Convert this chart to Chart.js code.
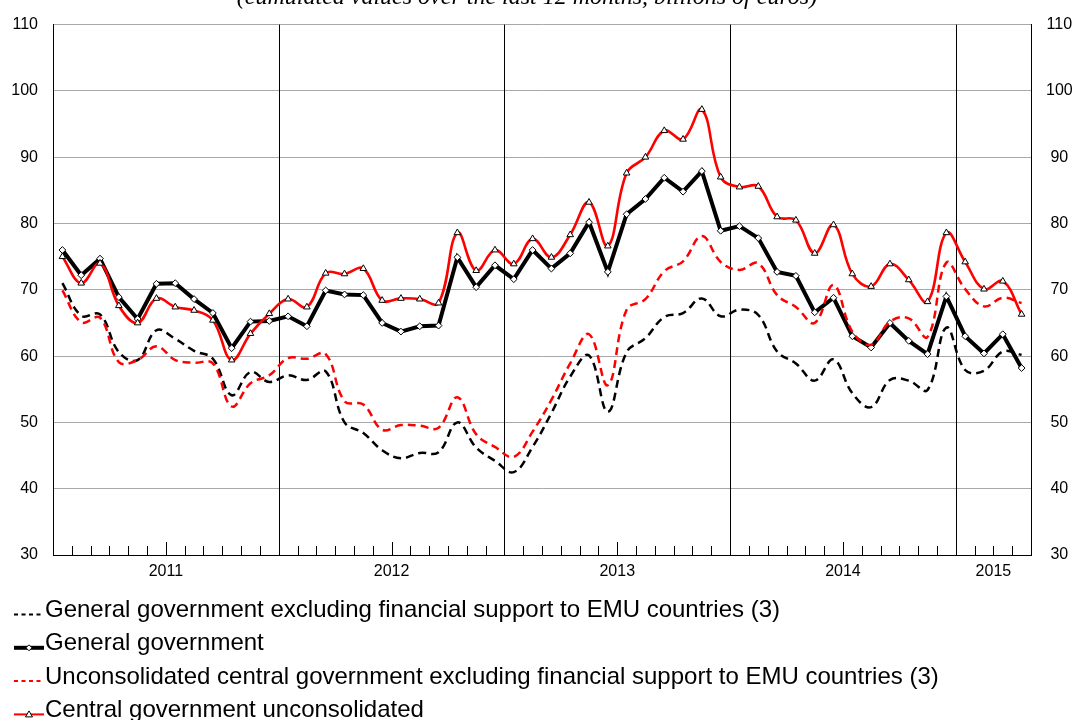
<!DOCTYPE html>
<html>
<head>
<meta charset="utf-8">
<script src="https://cdn.jsdelivr.net/npm/chart.js@4.4.1/dist/chart.umd.min.js"></script>
<style>
  html, body { margin: 0; padding: 0; background: #fff; }
  #wrap { width: 1075px; height: 720px; }
</style>
</head>
<body>
<div id="wrap"><canvas id="chart" width="1075" height="720"></canvas></div>
<script>
const months = [
    '2011-01','2011-02','2011-03','2011-04','2011-05','2011-06','2011-07','2011-08','2011-09','2011-10','2011-11','2011-12',
    '2012-01','2012-02','2012-03','2012-04','2012-05','2012-06','2012-07','2012-08','2012-09','2012-10','2012-11','2012-12',
    '2013-01','2013-02','2013-03','2013-04','2013-05','2013-06','2013-07','2013-08','2013-09','2013-10','2013-11','2013-12',
    '2014-01','2014-02','2014-03','2014-04','2014-05','2014-06','2014-07','2014-08','2014-09','2014-10','2014-11','2014-12',
    '2015-01','2015-02','2015-03','2015-04'
];
const years = ['2011', '2012', '2013', '2014', '2015'];
const yTicks = [30, 40, 50, 60, 70, 80, 90, 100, 110];

const titleText = '(cumulated values over the last 12 months, billions of euros)';
const seriesNames = [
    'General government excluding financial support to EMU countries (3)',
    'General government',
    'Unconsolidated central government excluding financial support to EMU countries (3)',
    'Central government unconsolidated'
];

const generalGovExcl = [
    71.0, 66.1, 66.3, 60.6, 59.4, 63.9, 62.6, 60.8, 59.6, 54.1, 57.6, 56.1,
    57.1, 56.4, 57.7, 50.0, 48.4, 45.8, 44.6, 45.4, 45.5, 50.0, 46.2, 44.2,
    42.5, 46.3, 51.4, 56.9, 60.1, 51.6, 60.6, 62.7, 65.9, 66.5, 68.7, 66.0,
    67.0, 66.2, 60.7, 58.9, 56.3, 59.5, 54.4, 52.3, 56.4, 56.3, 54.9, 64.3,
    57.9, 57.8, 60.7, 60.2
];
const generalGov = [
    76.0, 72.2, 74.7, 68.9, 65.6, 70.9, 71.0, 68.6, 66.5, 61.2, 65.2, 65.3,
    66.0, 64.5, 69.9, 69.3, 69.2, 65.0, 63.7, 64.5, 64.6, 74.9, 70.4, 73.7,
    71.6, 76.0, 73.2, 75.5, 80.2, 72.7, 81.4, 83.7, 86.9, 84.8, 87.9, 78.9,
    79.6, 77.8, 72.7, 72.1, 66.6, 68.8, 63.0, 61.3, 65.0, 62.3, 60.3, 69.0,
    63.0, 60.4, 63.3, 58.2
];
const centralGovExcl = [
    69.9, 65.1, 65.8, 59.1, 59.4, 61.5, 59.4, 59.0, 58.9, 52.4, 55.9, 57.1,
    59.7, 59.6, 60.3, 53.2, 52.7, 48.9, 49.6, 49.5, 49.2, 53.8, 48.2, 46.3,
    44.8, 48.6, 53.4, 58.9, 63.3, 55.6, 67.0, 68.6, 72.8, 74.3, 78.1, 74.2,
    73.0, 74.0, 69.2, 67.4, 65.0, 70.7, 63.7, 61.7, 65.2, 65.7, 62.9, 74.1,
    70.1, 67.5, 68.8, 68.0
];
const centralGov = [
    75.0, 71.0, 74.0, 67.6, 65.0, 68.7, 67.4, 66.9, 65.4, 59.4, 63.4, 66.4,
    68.6, 67.4, 72.5, 72.4, 73.2, 68.4, 68.7, 68.6, 68.0, 78.6, 72.9, 76.0,
    73.9, 77.7, 74.9, 78.3, 83.2, 76.6, 87.6, 90.0, 94.0, 92.7, 97.2, 87.0,
    85.5, 85.6, 81.0, 80.5, 75.5, 79.8, 72.4, 70.5, 73.9, 71.5, 68.2, 78.6,
    74.2, 70.1, 71.3, 66.3
];

// each month sits in the middle of its slot on a 0..n linear axis
const toPoints = arr => arr.map((v, i) => ({ x: i + 0.5, y: v }));

// centre of every year's run of months -> where the year label goes
const yearCentres = years.map(y => {
    const idx = months.map((m, i) => m.startsWith(y) ? i : -1).filter(i => i >= 0);
    return (idx[0] + idx[idx.length - 1] + 1) / 2;
});

const FONT = '"Liberation Sans", Arial, sans-serif';

const dsStyles = [
    { color: '#000000', width: 2.5, dash: [8, 5], tension: 0.4, point: null },
    { color: '#000000', width: 4, dash: [], tension: 0, point: 'rectRot' },
    { color: '#ff0000', width: 2.5, dash: [8, 5], tension: 0.4, point: null },
    { color: '#ff0000', width: 2.6, dash: [], tension: 0.4, point: 'triangle' }
];
const seriesData = [generalGovExcl, generalGov, centralGovExcl, centralGov];

const datasets = seriesData.map((arr, i) => {
    const s = dsStyles[i];
    return {
        label: seriesNames[i],
        data: toPoints(arr),
        borderColor: s.color,
        borderWidth: s.width,
        borderDash: s.dash,
        tension: s.tension,
        pointStyle: s.point || 'circle',
        pointRadius: s.point ? (s.point === 'triangle' ? 3.8 : 3.4) : 0,
        pointBackgroundColor: '#ffffff',
        pointBorderColor: '#000000',
        pointBorderWidth: 1,
        order: 3 - i
    };
});

// year separators and the little month ticks standing up from the x axis
const framePlugin = {
    id: 'frame',
    beforeDatasetsDraw(chart) {
        const { ctx, chartArea, scales: { x } } = chart;
        ctx.save();
        ctx.strokeStyle = '#000';
        ctx.lineWidth = 1;
        months.forEach((m, i) => {
            if (i === 0 || !m.endsWith('-01')) return;
            const px = Math.round(x.getPixelForValue(i)) + 0.5;
            ctx.beginPath();
            ctx.moveTo(px, chartArea.top);
            ctx.lineTo(px, chartArea.bottom);
            ctx.stroke();
        });
        for (let i = 1; i < months.length; i++) {
            const px = Math.round(x.getPixelForValue(i)) + 0.5;
            const len = months[i].endsWith('-07') ? 13 : 9;
            ctx.beginPath();
            ctx.moveTo(px, chartArea.bottom);
            ctx.lineTo(px, chartArea.bottom - len);
            ctx.stroke();
        }
        ctx.restore();
    },
    afterDraw(chart) {
        const { ctx } = chart;
        ctx.save();
        // title, mostly cut off at the top edge
        ctx.font = 'italic 24px "Liberation Serif", "Times New Roman", serif';
        ctx.fillStyle = '#000';
        ctx.textAlign = 'center';
        ctx.textBaseline = 'alphabetic';
        ctx.fillText(titleText, 527, 3.5);

        // legend rows
        ctx.textAlign = 'left';
        ctx.font = '24px ' + FONT;
        seriesNames.forEach((name, i) => {
            const s = dsStyles[i];
            const base = 617 + i * 33.3;
            const ly = base - 2.5;
            ctx.strokeStyle = s.color;
            ctx.lineWidth = s.width > 3 ? 4 : 2;
            ctx.setLineDash(s.dash.length ? [4, 3.5] : []);
            ctx.beginPath();
            ctx.moveTo(14, ly);
            ctx.lineTo(44, ly);
            ctx.stroke();
            ctx.setLineDash([]);
            if (s.point === 'rectRot') {
                ctx.fillStyle = '#fff';
                ctx.strokeStyle = '#000';
                ctx.lineWidth = 1;
                ctx.beginPath();
                ctx.moveTo(29, ly - 3);
                ctx.lineTo(32, ly);
                ctx.lineTo(29, ly + 3);
                ctx.lineTo(26, ly);
                ctx.closePath();
                ctx.fill();
                ctx.stroke();
            } else if (s.point === 'triangle') {
                ctx.fillStyle = '#fff';
                ctx.strokeStyle = '#000';
                ctx.lineWidth = 1;
                ctx.beginPath();
                ctx.moveTo(29, ly - 3.5);
                ctx.lineTo(32.5, ly + 2.5);
                ctx.lineTo(25.5, ly + 2.5);
                ctx.closePath();
                ctx.fill();
                ctx.stroke();
            }
            ctx.fillStyle = '#000';
            ctx.fillText(name, 45, base);
        });
        ctx.restore();
    }
};

const yCommon = {
    type: 'linear',
    min: yTicks[0],
    max: yTicks[yTicks.length - 1],
    afterBuildTicks: scale => { scale.ticks = yTicks.map(v => ({ value: v })); },
    ticks: { color: '#000', font: { family: FONT, size: 16 }, padding: 15 },
    border: { color: '#000', width: 1 }
};

new Chart(document.getElementById('chart').getContext('2d'), {
    type: 'line',
    data: { datasets },
    options: {
        responsive: false,
        animation: false,
        events: [],
        layout: { padding: { top: 23, left: 0, right: 0, bottom: 0 } },
        plugins: { legend: { display: false }, tooltip: { enabled: false } },
        scales: {
            x: {
                type: 'linear',
                min: 0,
                max: months.length,
                afterBuildTicks: scale => { scale.ticks = yearCentres.map(v => ({ value: v })); },
                afterFit: scale => { scale.height = 165; },
                ticks: {
                    autoSkip: false,
                    maxRotation: 0,
                    padding: 7,
                    color: '#000',
                    font: { family: FONT, size: 16 },
                    callback: (v, i) => years[i]
                },
                grid: { display: false, drawTicks: false },
                border: { color: '#000', width: 1 }
            },
            y: Object.assign({}, yCommon, {
                position: 'left',
                afterFit: scale => { scale.width = 53; },
                grid: { color: '#a8a8a8', lineWidth: 1, drawTicks: false }
            }),
            y2: Object.assign({}, yCommon, {
                position: 'right',
                afterFit: scale => { scale.width = 44; },
                ticks: Object.assign({}, yCommon.ticks, { crossAlign: 'center' }),
                grid: { drawOnChartArea: false, drawTicks: false }
            })
        }
    },
    plugins: [framePlugin]
});
</script>
</body>
</html>
